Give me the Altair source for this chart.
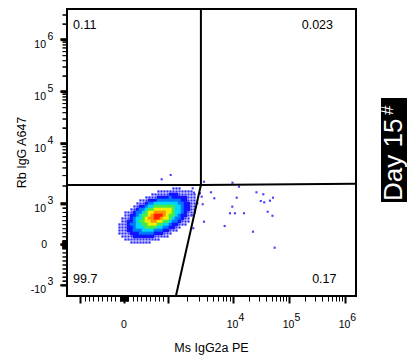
import math
import json
import altair as alt
import pandas as pd

FONT = "Liberation Sans"

# ---------------- data ----------------
X_TITLE = "Ms IgG2a PE"
Y_TITLE = "Rb IgG A647"
SIDE_TEXT = "Day 15"
SIDE_SUP = "#"
Q_UL, Q_UR, Q_LL, Q_LR = "0.11", "0.023", "99.7", "0.17"

# axis limits (raw fluorescence units)
X_LIMITS = [-1604.0, 1.6e6]
Y_LIMITS = [-1490.0, 3.96e6]

MAJOR_TICKS = [-1e3, 0.0, 1e3, 1e4, 1e5, 1e6]
DIGITS = [1, 2, 3, 4, 5, 6, 7, 8, 9]
POS_DECADES = [0, 1, 2, 3, 4, 5, 6]
NEG_DECADES = [0, 1, 2]

X_LABEL_VALUES = [1e4, 1e5, 1e6]
X_LABEL_EXP = ["4", "5", "6"]
Y_LABEL_VALUES = [-1e3, 1e3, 1e4, 1e5, 1e6]
Y_LABEL_BASE = ["-10", "10", "10", "10", "10"]
Y_LABEL_EXP = ["3", "3", "4", "5", "6"]

# quadrant gate (raw units)
GATE_X = 3250.0
GATE_Y = 2100.0
GATE_RIGHT_Y = 2200.0
GATE_FOOT_X = 1340.0

# pseudocolor density grid of the main population (biex display units)
GRID_X0 = -0.1071
GRID_DX = 0.05357
GRID_Y0 = 1.1154
GRID_DY = 0.05769
GRID = [
    "000000000000000000111000000",
    "000000000000011111111111100",
    "000000000001111112221111110",
    "000000000111122223222221110",
    "000000011122233333333221110",
    "000000111233444444443322110",
    "000001122344555555544322110",
    "000011233455666666544322110",
    "001112334566777766544321110",
    "001122345567888765543221100",
    "011123445677887665433211000",
    "011223455667766554332111000",
    "111233445566655443221110000",
    "111223444555544332211000000",
    "111223334444333221110000000",
    "111122233333222111000000000",
    "011112222222111110000000000",
    "001111111111110000000000000",
    "000011111110000000000000000",
]
LEVELS = [2, 3, 4, 5, 6, 7, 8]
LEVEL_COLORS = ["#1414ff", "#0078ff", "#00d8f8", "#48ec48", "#f0f000", "#ff9000", "#ff2200"]

# scattered single events (biex display units)
OUT_X = [1.429, 1.938, 2.054, 1.554, 1.613, 1.388, 2.366, 2.488, 2.661, 2.013,
         2.443, 2.505, 2.607, 1.934, 2.566, 1.893, 1.982, 2.143, 2.652, 1.429,
         1.798, 2.304, 2.691, 1.405, 1.357, 1.309, 1.238, 1.250, 1.227, 0.673,
         0.834, 1.209]
OUT_Y = [1.217, 1.198, 1.121, 1.013, 0.898, 0.929, 1.013, 0.975, 0.910, 0.910,
         0.846, 0.821, 0.852, 0.737, 0.640, 0.610, 0.610, 0.610, 0.562, 0.448,
         0.365, 0.256, -0.052, 0.783, 0.994, 0.802, 0.321, 1.006, 1.090, 1.263,
         1.346, 0.577]

W, H = 289, 287


# ---------------- biexponential-like display transform ----------------
def biex(v):
    a = abs(v)
    if a <= 1000:
        t = 0.78 * a / 1000.0
    elif a <= 1e4:
        t = 0.78 + 1.16 * math.log10(a / 1000.0)
    else:
        t = 1.94 + math.log10(a / 1e4)
    return t if v >= 0 else -t


xdom = [biex(X_LIMITS[0]), biex(X_LIMITS[1])]
ydom = [biex(Y_LIMITS[0]), biex(Y_LIMITS[1])]
xs = alt.Scale(domain=xdom, nice=False, zero=False)
ys = alt.Scale(domain=ydom, nice=False, zero=False)
x_unit_per_px = (xdom[1] - xdom[0]) / W

# tick positions
minor_vals = [d * 10 ** k for k in POS_DECADES for d in DIGITS] + \
             [-d * 10 ** k for k in NEG_DECADES for d in DIGITS]
minor_vals = [v for v in minor_vals if v not in MAJOR_TICKS]
majors = [float(biex(v)) for v in MAJOR_TICKS]
x_minor = [float(biex(v)) for v in minor_vals if X_LIMITS[0] < v < X_LIMITS[1]]
y_minor = [float(biex(v)) for v in minor_vals if Y_LIMITS[0] < v < Y_LIMITS[1]]
x_ticks = majors + x_minor

is_major = "indexof(" + json.dumps(majors) + ", datum.value) >= 0"

x_axis = alt.Axis(
    values=x_ticks, labels=False, domain=False, grid=False, title="", ticks=True,
    tickColor="black",
    tickSize={"condition": {"test": is_major, "value": 7}, "value": 5},
    tickWidth={"condition": {"test": is_major, "value": 2}, "value": 1},
)
y_axis = alt.Axis(labels=False, domain=False, grid=False, title="", ticks=False)


def X(f):
    return alt.X(f, type="quantitative", scale=xs, axis=x_axis)


def Y(f):
    return alt.Y(f, type="quantitative", scale=ys, axis=y_axis)


# grid -> cells
recs = []
for r, line in enumerate(GRID):
    for c, ch in enumerate(line):
        lvl = int(ch)
        if lvl == 0:
            continue
        x0 = GRID_X0 + c * GRID_DX
        y0 = GRID_Y0 - r * GRID_DY
        recs.append(dict(x=x0, x2=x0 + GRID_DX, y=y0, y2=y0 - GRID_DY,
                         xc=x0 + GRID_DX / 2, yc=y0 - GRID_DY / 2, level=lvl))
grid_df = pd.DataFrame(recs)
cells_df = grid_df[grid_df.level >= 2]
fringe_df = grid_df[grid_df.level == 1]

cscale = alt.Scale(domain=LEVELS, range=LEVEL_COLORS)

fringe = alt.Chart(fringe_df).mark_square(size=5, color="#2a2aff", opacity=1).encode(
    x=X("xc"), y=Y("yc"))
cells = alt.Chart(cells_df).mark_rect(strokeWidth=0.6).encode(
    x=X("x"), x2="x2", y=Y("y"), y2="y2",
    color=alt.Color("level:O", scale=cscale, legend=None),
    stroke=alt.Stroke("level:O", scale=cscale, legend=None))
outliers = alt.Chart(pd.DataFrame({"x": OUT_X, "y": OUT_Y})).mark_square(
    size=4.5, color="#4242ff", opacity=1).encode(x=X("x"), y=Y("y"))

# gate segments + left-axis tick segments share one line-segment layer
gx, gy = biex(GATE_X), biex(GATE_Y)
seg_x1 = [gx, xdom[0], gx, gx]
seg_y1 = [gy, gy, gy, gy]
seg_x2 = [gx, gx, xdom[1], biex(GATE_FOOT_X)]
seg_y2 = [ydom[1], gy, biex(GATE_RIGHT_Y), ydom[0]]
seg_w = [2, 2, 2, 2]
for vals, length_px, width in ((y_minor, 4.5, 1), (majors, 6.5, 2)):
    for v in vals:
        seg_x1.append(xdom[0] - length_px * x_unit_per_px)
        seg_x2.append(xdom[0])
        seg_y1.append(v)
        seg_y2.append(v)
        seg_w.append(width)
seg_df = pd.DataFrame({"x1": seg_x1, "y1": seg_y1, "x2": seg_x2, "y2": seg_y2, "w": seg_w})
segments = alt.Chart(seg_df).mark_rule(color="black").encode(
    x=X("x1"), y=Y("y1"), x2="x2", y2="y2",
    strokeWidth=alt.StrokeWidth("w:Q", scale=None, legend=None))

# left-axis ticks also as box-drawing glyphs (text marks)
glyph_minor = alt.Chart(pd.DataFrame({"gv": y_minor, "g": ["\u2500"] * len(y_minor)})).mark_text(
    align="right", baseline="middle", fontSize=7.5, font="DejaVu Sans Mono", color="black").encode(
    y=Y("gv"), x=alt.value(0), text="g:N")
glyph_major = alt.Chart(pd.DataFrame({"gm": majors, "g": ["\u2501"] * len(majors)})).mark_text(
    align="right", baseline="middle", fontSize=10.8, font="DejaVu Sans Mono", color="black").encode(
    y=Y("gm"), x=alt.value(0), text="g:N")

# tick labels
LS = 10.5
yl_df = pd.DataFrame({"v": [biex(v) for v in Y_LABEL_VALUES], "base": Y_LABEL_BASE, "exp": Y_LABEL_EXP})
xl_df = pd.DataFrame({"v": [biex(v) for v in X_LABEL_VALUES], "base": ["10"] * len(X_LABEL_VALUES),
                      "exp": X_LABEL_EXP})
zero_df = pd.DataFrame({"v": [biex(0.0)], "t": ["0"]})

ylab_base = alt.Chart(yl_df).mark_text(align="right", baseline="middle", dy=4.5, fontSize=LS, font=FONT).encode(
    y=Y("v"), x=alt.value(-21), text="base:N")
ylab_exp = alt.Chart(yl_df).mark_text(align="left", baseline="middle", dy=-3.5, fontSize=LS, font=FONT).encode(
    y=Y("v"), x=alt.value(-19.5), text="exp:N")
ylab_zero = alt.Chart(zero_df).mark_text(align="right", baseline="middle", fontSize=LS, font=FONT).encode(
    y=Y("v"), x=alt.value(-20), text="t:N")
xlab_base = alt.Chart(xl_df).mark_text(align="center", baseline="middle", fontSize=LS, font=FONT).encode(
    x=X("v"), y=alt.value(316), text="base:N")
xlab_exp = alt.Chart(xl_df).mark_text(align="left", baseline="middle", dx=5.8, fontSize=LS, font=FONT).encode(
    x=X("v"), y=alt.value(309), text="exp:N")
xlab_zero = alt.Chart(zero_df).mark_text(align="center", baseline="middle", fontSize=LS, font=FONT).encode(
    x=X("v"), y=alt.value(316), text="t:N")


def label(txt, x, y, align="left", baseline="alphabetic", size=12.5, angle=0, color="black"):
    kw = dict(align=align, baseline=baseline, fontSize=size, font=FONT, color=color)
    if angle:
        kw["angle"] = angle
    return alt.Chart(pd.DataFrame({"t": [txt]})).mark_text(**kw).encode(
        x=alt.value(x), y=alt.value(y), text="t:N")


x_title = label(X_TITLE, 144.5, 339, align="center", baseline="middle")
y_title = label(Y_TITLE, -45, 143.5, align="center", baseline="middle", angle=270)
q_ul = label(Q_UL, 6, 19.5)
q_ur = label(Q_UR, 266, 19.5, align="right")
q_ll = label(Q_LL, 6, 274)
q_lr = label(Q_LR, 269.5, 274, align="right")

side_box = alt.Chart(pd.DataFrame({"t": [SIDE_TEXT]})).mark_rect(color="black").encode(
    x=alt.value(314), x2=alt.value(340), y=alt.value(89), y2=alt.value(193))
side_txt = label(SIDE_TEXT, 327, 192, align="left", baseline="middle", size=26, angle=270, color="white")
side_sup = label(SIDE_SUP, 321, 106, align="left", baseline="middle", size=17, angle=270, color="white")

chart = alt.layer(
    fringe, cells, outliers, segments, glyph_minor, glyph_major,
    ylab_base, ylab_exp, ylab_zero, xlab_base, xlab_exp, xlab_zero,
    x_title, y_title, q_ul, q_ur, q_ll, q_lr,
    side_box, side_txt, side_sup,
).properties(
    width=W, height=H, autosize="none",
    padding={"left": 59, "top": 1, "right": 55, "bottom": 60},
).configure_view(stroke="black", strokeWidth=2)

chart.save("out.html", embed_options={"renderer": "svg", "actions": False})
